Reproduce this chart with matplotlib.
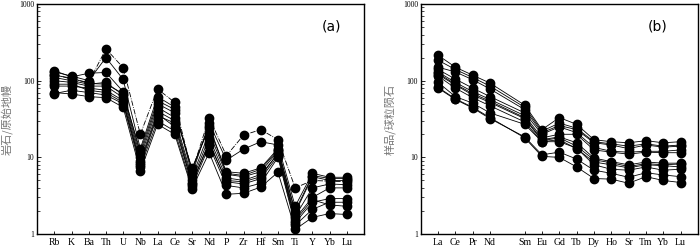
import numpy as np
import matplotlib as mpl
import matplotlib.pyplot as plt
from matplotlib.ticker import LogLocator, NullFormatter, FixedLocator

mpl.rcParams['font.family'] = ['Liberation Serif', 'Noto Sans CJK SC']

# ---- panel (a): primitive mantle normalised spider diagram
elems_a = ['Rb', 'K', 'Ba', 'Th', 'U', 'Nb', 'La', 'Ce', 'Sr', 'Nd',
           'P', 'Zr', 'Hf', 'Sm', 'Ti', 'Y', 'Yb', 'Lu']
a1 = [120, 105, 95, 260, 148, 20, 78, 52, 6.5, 33, 10.5, 19.5, 23, 17, 4.0, 5.0, 4.9, 4.8]
a2 = [130, 115, 100, 200, 104, 13, 62, 45, 6.0, 28, 9.2, 12.8, 16, 14.5, 2.3, 6.2, 5.5, 5.5]
a3 = [135, 112, 125, 128, 72, 11, 50, 38, 7.2, 24, 6.5, 6.2, 7.3, 13, 1.9, 5.6, 5.0, 5.0]
a4 = [118, 108, 92, 90, 68, 12, 55, 42, 6.8, 26, 6.2, 5.8, 7.0, 12.5, 2.0, 5.8, 5.3, 5.3]
a5 = [110, 100, 90, 95, 65, 10, 45, 33, 5.5, 21, 6.0, 5.6, 6.5, 12, 1.7, 4.0, 4.5, 4.4]
a6 = [100, 95, 85, 85, 60, 9, 40, 30, 5.0, 18, 5.4, 5.0, 6.0, 11, 1.6, 3.0, 4.0, 4.0]
a7 = [90, 90, 75, 70, 52, 8.5, 37, 25, 4.7, 15, 5.0, 4.8, 5.6, 11.5, 1.5, 2.8, 2.4, 2.3]
a8 = [85, 85, 80, 75, 55, 8, 35, 28, 4.5, 16, 4.8, 4.5, 5.3, 10.5, 1.4, 2.6, 2.9, 2.9]
a9 = [68, 75, 70, 65, 50, 7.5, 30, 22, 4.2, 14, 4.3, 4.0, 4.6, 10, 1.3, 2.1, 2.6, 2.6]
a10 = [70, 67, 62, 60, 45, 6.6, 27, 20, 3.9, 11.5, 3.3, 3.4, 4.1, 6.4, 1.15, 1.65, 1.85, 1.8]
series_a = [a1, a2, a3, a4, a5, a6, a7, a8, a9, a10]

# ---- panel (b): chondrite normalised REE pattern (Pm slot left empty)
elems_b = ['La', 'Ce', 'Pr', 'Nd', 'Sm', 'Eu', 'Gd', 'Tb', 'Dy', 'Ho',
           'Sr', 'Tm', 'Yb', 'Lu']
pos_b = [0, 1, 2, 3, 5, 6, 7, 8, 9, 10, 11, 12, 13, 14]
b1 = [215, 150, 118, 93, 48, 23, 33, 27, 17, 16, 15.5, 16.5, 15.5, 16]
b2 = [185, 140, 110, 85, 45, 22, 28, 24, 16, 15, 14, 15, 14, 14.5]
b3 = [150, 130, 103, 78, 42, 21, 26, 23, 15.5, 14.5, 13, 14.5, 13.6, 14]
b4 = [140, 105, 80, 62, 38, 20, 25, 21, 13.5, 12, 11.7, 12, 12, 12.5]
b5 = [130, 95, 72, 57, 35, 18, 20, 20, 12.5, 11.7, 11, 11.7, 11.5, 11.5]
b6 = [125, 90, 68, 54, 33, 17, 18.5, 15.5, 9.8, 8.8, 8, 8.7, 8.4, 8.4]
b7 = [120, 88, 65, 52, 32, 16.5, 18, 14, 9.3, 8.5, 7.6, 8.3, 8, 8.2]
b8 = [115, 80, 60, 47, 29, 16, 17, 13, 8.7, 8, 7.3, 8, 7.8, 7.5]
b9 = [95, 62, 51, 38, 27, 16, 16, 13.2, 8, 7, 6.8, 7.5, 6.8, 7.0]
b10 = [80, 57, 44, 32, 18.5, 10.8, 11.7, 9.5, 6.8, 6.2, 5.5, 6.3, 5.9, 5.6]
b11 = [82, 58, 45, 33, 18, 10.3, 10, 7.5, 5.3, 5.2, 4.6, 5.6, 5.0, 4.7]
series_b = [b1, b2, b3, b4, b5, b6, b7, b8, b9, b10, b11]

fig = plt.figure(figsize=(7.0, 2.49), dpi=100)
ax1 = fig.add_axes([0.053, 0.06, 0.467, 0.924])
ax2 = fig.add_axes([0.601, 0.06, 0.396, 0.924])


def style_axis(ax, positions, labels, xlim):
	ax.set_yscale('log')
	ax.set_ylim(1, 1000)
	ax.set_xlim(*xlim)
	ax.xaxis.set_major_locator(FixedLocator(positions))
	ax.set_xticklabels(labels, fontsize=7)
	ax.yaxis.set_minor_locator(LogLocator(base=10, subs=np.arange(2, 10), numticks=10))
	ax.yaxis.set_minor_formatter(NullFormatter())
	ax.set_yticks([1, 10, 100, 1000])
	ax.set_yticklabels(['1', '10', '100', '1000'], fontsize=5.5)
	ax.tick_params(axis='both', which='both', direction='in', top=False, right=False)
	ax.tick_params(axis='x', length=2.5, width=0.6, pad=3)
	ax.tick_params(axis='y', which='major', length=3, width=0.6, pad=2)
	ax.tick_params(axis='y', which='minor', length=1.8, width=0.5)
	for sp in ax.spines.values():
		sp.set_linewidth(1.0)


x_a = np.arange(len(elems_a))
for i, s in enumerate(series_a):
	ls = '-.' if i == 0 else '-'
	ax1.plot(x_a, s, ls, color='black', lw=0.6, marker='o', ms=6)
style_axis(ax1, x_a, elems_a, (-1, 18))
ax1.text(0.9, 0.9, '(a)', transform=ax1.transAxes, fontsize=10,
	family='DejaVu Sans', ha='center', va='center')
ax1.set_ylabel('岩石/原始地幔', family='Noto Sans CJK SC', fontsize=8,
	color='#777777', labelpad=5)

for s in series_b:
	ax2.plot(pos_b, s, '-', color='black', lw=0.6, marker='o', ms=6)
style_axis(ax2, pos_b, elems_b, (-1, 15))
ax2.text(0.855, 0.9, '(b)', transform=ax2.transAxes, fontsize=10,
	family='DejaVu Sans', ha='center', va='center')
ax2.set_ylabel('样品/球粒陨石', family='Noto Sans CJK SC', fontsize=8,
	color='#777777', labelpad=5)

plt.savefig('out.png', dpi=100)
